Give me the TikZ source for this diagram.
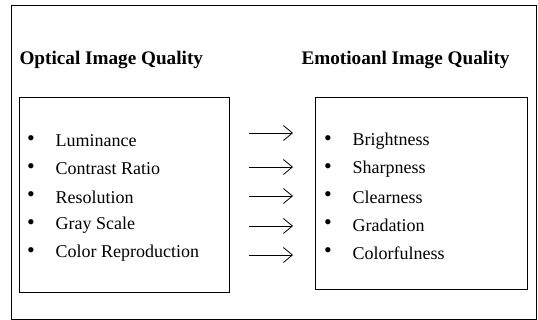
\documentclass[tikz,border=0pt]{standalone}
\usepackage{fontspec}
\setmainfont{Liberation Serif}
\usetikzlibrary{arrows.meta}

\tikzset{
  titol/.style={anchor=west, font=\fontsize{19.2}{22}\selectfont\bfseries},
  item/.style={anchor=west, font=\fontsize{18}{21}\selectfont},
  punt/.style={font=\fontsize{22}{24}\selectfont},
  fletxa/.style={-{Straight Barb[length=9pt,width=15pt,line width=0.8pt]}, line width=0.8pt}
}

\begin{document}
\begin{tikzpicture}[x=1pt,y=-1pt]
  \useasboundingbox (0,0) rectangle (538,320);
  \draw[line width=0.8pt] (11,5) rectangle (536,319); % marc exterior
  \node[titol] (optTitle) at (16,60) {Optical Image Quality};
  \node[titol] (emoTitle) at (298,60) {Emotioanl Image Quality};
  \draw[line width=0.8pt] (19,97) rectangle (229,292);
  \draw[line width=0.8pt] (315,97) rectangle (527,289);
  % llistes
  \foreach \i/\j/\a/\b [count=\n] in {141/133/Luminance/Brightness, 169/167/Contrast Ratio/Sharpness,
      197/196/Resolution/Clearness, 225/226/Gray Scale/Gradation, 253/255/Color Reproduction/Colorfulness} {
    \node[punt] at (31,\i) {\textbullet};
    \node[item] (opt\n) at (52,\i) {\a};
    \node[punt] at (328,\i) {\textbullet};
    \node[item] (emo\n) at (349,\i) {\b};
    \coordinate (from\n) at (249,\j);
    \coordinate (to\n) at (293,\j);
    \draw[fletxa] (from\n) -- (to\n);
  }
\end{tikzpicture}
\end{document}
